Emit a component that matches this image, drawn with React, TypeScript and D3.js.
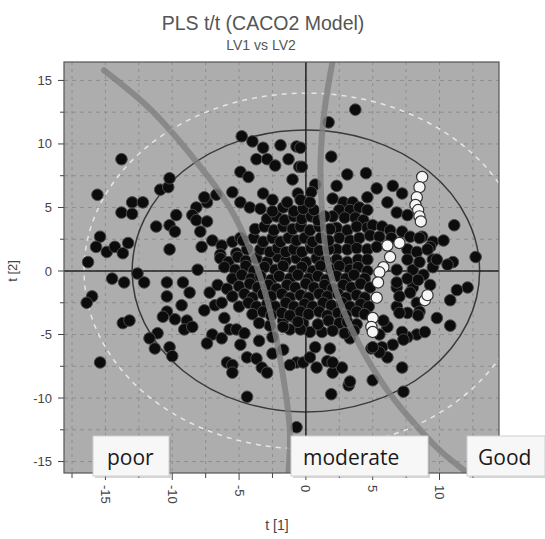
import React from "react";
import * as d3 from "d3";

// ---- data (t[1], t[2] scores) ----
const blackPoints: [number, number][] = [
  // sparse outer points
  [-13.8, 8.8], [-15.6, 6.0], [-13.0, 5.4], [-12.2, 5.4], [-13.8, 4.6], [-13.0, 4.5], [-15.4, 2.7], [-15.7, 1.9],
  [-14.9, 1.5], [-14.3, 1.9], [-13.7, 1.4], [-13.3, 2.2], [-16.3, 0.7], [-14.5, -0.6], [-13.6, -0.9], [-12.6, -0.2],
  [-12.1, -0.9], [-16.0, -2.0], [-16.4, -2.5], [-13.7, -4.1], [-13.2, -3.9], [-15.4, -7.2],
  [-10.9, 6.4], [-10.3, 6.6], [-10.2, 7.3], [-11.2, 3.5], [-10.2, 3.6], [-9.8, 3.1], [-9.7, 4.4], [-10.2, 1.7],
  [-8.2, 5.0], [-7.4, 5.4], [-8.5, 4.4], [-8.2, 4.0], [-7.4, 3.9], [-7.6, 5.8], [-6.7, 6.0], [-5.5, 6.2],
  [-7.9, 3.1], [-7.0, 2.4], [-6.3, 2.0], [-5.5, 2.3], [-4.9, 2.6], [-7.8, 1.9], [-6.4, 1.3], [-5.2, 1.4], [-4.4, 1.7],
  [-10.4, -0.9], [-9.2, -0.9], [-8.7, -1.7], [-10.4, -2.0], [-9.3, -2.7], [-10.4, -3.2], [-10.7, -3.6], [-9.8, -3.8],
  [-8.9, -3.9], [-9.1, -4.6], [-8.5, -4.4], [-11.1, -4.9], [-11.7, -5.3], [-11.3, -6.1], [-10.2, -6.0], [-10.0, -6.7],
  [-8.1, 0.1], [-7.6, -3.1], [-6.8, -2.7], [-7.2, -1.7], [-7.0, -5.0], [-6.3, -5.3], [-7.4, -5.7], [-6.1, -3.7],
  [-5.7, -4.6], [-5.2, -4.6], [-4.6, -4.9], [-4.9, -5.8], [-5.9, -7.2], [-5.5, -7.4], [-5.5, -8.0], [-4.4, -6.8],
  [-3.7, -6.9], [-3.3, -7.6], [-2.9, -8.0], [-4.4, -9.9], [-0.7, -12.3], [-2.5, -6.5], [-1.7, -6.2], [-0.7, -7.2],
  [-0.2, -7.2], [-2.7, -4.3], [-2.5, -5.2], [-1.2, -7.4], [0.3, -6.8], [0.7, -6.0], [0.8, -7.6], [1.6, -7.1],
  [1.8, -6.1], [1.2, -4.8], [0.3, -4.8], [-0.2, -4.1], [-1.2, -4.6], [-1.7, -3.9], [-3.5, -5.5], [-1.7, -4.4],
  [-1.0, -3.6], [-0.4, -4.6],
  // top
  [-4.8, 10.6], [-4.0, 10.2], [-3.2, 9.7], [-1.9, 9.9], [-0.7, 9.8], [-3.7, 8.8], [-2.9, 8.8], [-2.3, 8.3],
  [-1.3, 8.8], [-0.5, 8.2], [-4.9, 7.8], [-4.3, 7.4], [-1.0, 7.2], [-0.6, 6.1], [-3.2, 6.1], [-4.9, 5.4], [-4.2, 5.0],
  [1.9, 9.0], [-0.4, 9.7], [-0.3, 8.2], [3.7, 12.7], [1.7, 11.7], [0.7, 6.8], [0.4, 6.2], [3.1, 7.6], [4.5, 7.7],
  [2.3, 6.7], [5.3, 6.5], [6.5, 6.7], [7.2, 6.1], [4.6, 5.8], [6.1, 5.4], [6.8, 4.6], [7.6, 4.4],
  // right
  [11.1, 3.6], [8.7, 2.7], [9.5, 2.3], [10.3, 2.4], [12.7, 1.1], [11.0, 0.7], [10.6, 0.5], [9.5, 0.9], [12.1, -1.3],
  [11.3, -1.5], [10.8, -2.3], [9.8, -3.7], [10.8, -4.3], [8.3, -2.5], [8.5, -3.2], [7.2, -7.6], [5.0, -8.6],
  [3.2, -9.0], [1.9, -9.7], [7.3, -9.5], [8.3, -5.0], [7.6, -5.2], [6.5, -5.8], [5.7, -6.0], [6.1, -6.8], [4.9, -6.1],
  [5.5, -6.4], [2.0, -8.0], [2.7, -7.6], [3.3, -5.3], [6.8, -1.3], [8.0, -1.3], [8.8, -0.3], [9.3, -1.1],
  [7.6, -3.3], [8.4, -3.5], [6.8, -2.8], [7.2, -4.8], [6.1, -4.4], [5.5, -5.0], [5.0, -6.0], [7.3, -5.4],
  [2.0, -7.2], [3.3, -8.7], [9.5, 0.3], [8.0, 0.1], [7.6, -0.6], [8.4, -0.7], [6.8, 0.1], [6.8, -0.9],
  [7.8, -1.7], [7.0, -2.0], [8.9, -4.8], [7.0, -3.3], [5.8, -3.9],
  [2.8, 5.4], [2.0, 5.7], [3.5, 5.4], [2.5, 4.8], [3.3, 4.8], [4.0, 5.0], [4.6, 4.8], [2.0, 4.3], [2.9, 4.2],
  [3.7, 4.2], [4.3, 4.0], [2.3, 3.4], [3.1, 3.2], [3.8, 3.5], [4.6, 3.4], [5.0, 3.6], [5.7, 3.5], [6.3, 3.2],
  [7.2, 3.1], [2.5, 2.6], [3.3, 2.4], [4.0, 2.6], [4.8, 2.8], [5.5, 2.7], [6.4, 2.6], [7.8, 2.7], [8.5, 2.6],
  [9.3, 1.9], [2.3, 1.7], [3.1, 1.7], [3.8, 1.8], [4.6, 1.7], [5.3, 1.9], [7.6, 1.7], [8.3, 1.5], [9.1, 1.7],
  [9.8, 0.9], [2.3, 0.9], [3.1, 0.7], [3.9, 0.9], [4.6, 0.9], [7.6, 0.9], [8.5, 0.7],
  // dense core
  [-6.4, 1.0], [-5.8, 0.7], [-5.1, 1.1], [-4.5, 0.8], [-3.7, 1.0], [-2.9, 0.7], [-2.1, 1.1], [-1.5, 0.8], [-0.7, 1.0],
  [0.0, 0.7], [0.8, 1.0], [1.5, 0.8],
  [-6.1, 0.3], [-5.3, 0.1], [-4.5, 0.4], [-3.9, 0.0], [-3.1, 0.3], [-2.3, 0.1], [-1.7, 0.4], [-0.9, 0.0], [-0.3, 0.3],
  [0.5, 0.0], [1.1, 0.4], [1.9, 0.1], [2.5, 0.4], [3.3, 0.1], [3.9, 0.3], [4.6, 0.0],
  [-5.5, -0.6], [-4.8, -0.3], [-4.1, -0.6], [-3.4, -0.4], [-2.6, -0.7], [-2.0, -0.4], [-1.2, -0.6], [-0.6, -0.3],
  [0.2, -0.6], [0.9, -0.4], [1.5, -0.7], [2.3, -0.4], [3.0, -0.6], [3.6, -0.3], [4.4, -0.6],
  [-6.6, -1.1], [-5.9, -1.4], [-5.0, -1.2], [-4.2, -1.0], [-3.6, -1.3], [-2.8, -1.1], [-2.2, -1.4], [-1.4, -1.1],
  [-0.8, -1.3], [0.0, -1.0], [0.6, -1.3], [1.4, -1.1], [2.0, -1.4], [2.8, -1.1], [3.4, -1.3], [4.1, -1.0], [4.8, -1.3],
  [-5.5, -2.0], [-4.6, -1.8], [-4.0, -2.1], [-3.2, -1.8], [-2.6, -2.0], [-1.8, -1.8], [-1.2, -2.1], [-0.4, -1.9],
  [0.2, -2.1], [1.0, -1.8], [1.6, -2.0], [2.4, -1.8], [3.0, -2.1], [3.8, -1.9], [4.4, -2.1],
  [-6.3, -2.5], [-5.0, -2.8], [-4.3, -2.5], [-3.7, -2.8], [-2.9, -2.6], [-2.3, -2.8], [-1.5, -2.5], [-0.9, -2.8],
  [-0.1, -2.6], [0.5, -2.8], [1.3, -2.5], [1.9, -2.7], [2.7, -2.5], [3.3, -2.8], [4.1, -2.6], [4.7, -2.8],
  [-4.0, -3.4], [-3.2, -3.2], [-2.6, -3.5], [-1.8, -3.3], [-1.2, -3.5], [-0.4, -3.2], [0.2, -3.4], [1.0, -3.2],
  [1.6, -3.5], [2.4, -3.3], [3.0, -3.5], [3.8, -3.2], [4.4, -3.4],
  [-3.5, -4.1], [-0.6, -4.0], [0.9, -4.2], [1.7, -3.9], [2.5, -4.1], [3.1, -4.0], [3.8, -4.2],
  [2.0, -4.7], [2.9, -4.9], [3.6, -4.7],
  [-3.4, 1.7], [-2.7, 1.5], [-2.1, 1.8], [-1.5, 1.5], [-0.9, 1.7], [-0.3, 1.5], [0.4, 1.8], [1.0, 1.6], [1.7, 1.7],
  [-4.7, 2.4], [-3.9, 2.6], [-3.2, 2.3], [-2.5, 2.6], [-1.9, 2.3], [-1.3, 2.6], [-0.7, 2.4], [-0.1, 2.6], [0.5, 2.3],
  [1.1, 2.6], [1.7, 2.4],
  [-3.8, 3.3], [-3.1, 3.5], [-2.4, 3.2], [-1.7, 3.5], [-1.0, 3.3], [-0.4, 3.5], [0.3, 3.2], [1.0, 3.5], [1.8, 3.3],
  [-2.9, 4.1], [-2.2, 4.3], [-1.6, 4.0], [-0.9, 4.3], [-0.3, 4.1], [0.4, 4.3], [0.9, 4.0], [1.4, 4.3],
  [-3.4, 4.9], [-2.5, 4.7], [-1.7, 5.0], [-0.9, 4.7], [-0.2, 4.9], [0.6, 4.8],
  [-2.5, 5.6], [-1.4, 5.4], [-0.4, 5.6], [0.3, 5.4],
];

const whitePoints: [number, number][] = [
  [8.7, 7.4], [8.5, 6.6], [8.3, 5.8], [8.2, 5.2], [8.4, 4.8], [8.5, 4.3], [8.6, 3.9],
  [7.0, 2.2], [6.1, 2.0], [6.3, 1.1], [5.8, 0.3], [5.5, -0.1], [5.4, -0.9], [5.3, -2.1],
  [5.0, -3.7], [4.9, -4.4], [5.0, -4.8], [8.9, -2.3], [9.1, -1.9],
];

// class boundaries drawn by hand on the plot
const poorBoundary: [number, number][] = [
  [-15.1, 15.8], [-11.7, 12.8], [-8.5, 9.0], [-5.7, 5.0], [-3.8, 0.7], [-2.5, -3.9], [-1.6, -9.0], [-1.2, -12.5], [-1.3, -15.9],
];
const goodBoundary: [number, number][] = [
  [2.0, 16.5], [1.4, 12.7], [1.1, 8.7], [1.2, 4.8], [1.6, 0.9], [2.5, -2.3], [4.0, -5.8], [6.1, -9.4], [8.2, -12.1], [10.0, -14.1], [12.1, -15.9],
];

const ellipseSolid = { rx: 13.0, ry: 11.1 };
const ellipseDashed = { rx: 16.6, ry: 14.0 };

const xMajor = [-15, -10, -5, 0, 5, 10];
const xMinor = [-17.5, -12.5, -7.5, -2.5, 2.5, 7.5, 12.5];
const yMajor = [-15, -10, -5, 0, 5, 10, 15];
const yMinor = [-12.5, -7.5, -2.5, 2.5, 7.5, 12.5];

const zoneLabels = ["poor", "moderate", "Good"];

export default function App() {
  const W = 545, H = 539;
  const left = 64, right = 499, top = 62, bottom = 473;
  const x = d3.scaleLinear().domain([-18.1, 14.45]).range([left, right]);
  const y = d3.scaleLinear().domain([-15.9, 16.45]).range([bottom, top]);
  const gridX = [...xMajor, ...xMinor];
  const gridY = [...yMajor, ...yMinor];
  const line = d3.line<[number, number]>().x(d => x(d[0])).y(d => y(d[1])).curve(d3.curveCatmullRom);

  const boxes = [
    { x0: 93, x1: 169, tx: 107 },
    { x0: 291, x1: 428, tx: 303 },
    { x0: 467, x1: 545, tx: 478 },
  ];

  const font = "'Liberation Sans', Arial, sans-serif";
  return (
    <svg width={W} height={H} style={{ position: "absolute", left: 0, top: 0, background: "#fff" }} fontFamily={font}>
      <defs>
        <clipPath id="plotclip">
          <rect x={left} y={top} width={right - left} height={bottom - top} />
        </clipPath>
      </defs>
      <text x={263} y={30} textAnchor="middle" fontSize={19.5} fill="#555">PLS t/t (CACO2 Model)</text>
      <text x={261} y={50} textAnchor="middle" fontSize={14} fill="#555">LV1 vs LV2</text>

      <rect x={left} y={top} width={right - left} height={bottom - top} fill="#adadad" />
      <g clipPath="url(#plotclip)">
        {gridX.map(v => (
          <line key={"gx" + v} x1={x(v)} x2={x(v)} y1={top} y2={bottom} stroke="#8e8e8e" strokeWidth={1} strokeDasharray="3,4" />
        ))}
        {gridY.map(v => (
          <line key={"gy" + v} x1={left} x2={right} y1={y(v)} y2={y(v)} stroke="#8e8e8e" strokeWidth={1} strokeDasharray="4,4" />
        ))}
        <ellipse cx={x(0)} cy={y(0)} rx={x(ellipseDashed.rx) - x(0)} ry={y(0) - y(ellipseDashed.ry)} fill="none" stroke="#e6e6e6" strokeWidth={1.5} strokeDasharray="5,5" />
        <ellipse cx={x(0)} cy={y(0)} rx={x(ellipseSolid.rx) - x(0)} ry={y(0) - y(ellipseSolid.ry)} fill="none" stroke="#3a3a3a" strokeWidth={1.5} />
        <line x1={x(0)} x2={x(0)} y1={top} y2={bottom} stroke="#222" strokeWidth={1.5} />
        <line x1={left} x2={right} y1={y(0)} y2={y(0)} stroke="#222" strokeWidth={1.5} />
        {blackPoints.map((p, i) => (
          <circle key={"b" + i} cx={x(p[0])} cy={y(p[1])} r={5.8} fill="#0c0c0c" stroke="#4a4a4a" strokeWidth={1} />
        ))}
        {whitePoints.map((p, i) => (
          <circle key={"w" + i} cx={x(p[0])} cy={y(p[1])} r={5.6} fill="#f6f6f6" stroke="#333" strokeWidth={1.2} />
        ))}
        <path d={line(poorBoundary) || ""} fill="none" stroke="#808080" strokeOpacity={0.8} strokeWidth={6} strokeLinecap="round" />
        <path d={line(goodBoundary) || ""} fill="none" stroke="#808080" strokeOpacity={0.8} strokeWidth={6} strokeLinecap="round" />
      </g>
      <rect x={left} y={top} width={right - left} height={bottom - top} fill="none" stroke="#555" strokeWidth={1.2} />

      {/* y axis */}
      {yMajor.map(v => (
        <g key={"ym" + v}>
          <line x1={left - 6} x2={left} y1={y(v)} y2={y(v)} stroke="#444" />
          <text x={left - 12} y={y(v)} dy="0.35em" textAnchor="end" fontSize={13} fill="#444">{v}</text>
        </g>
      ))}
      {yMinor.map(v => (
        <line key={"yn" + v} x1={left - 4} x2={left} y1={y(v)} y2={y(v)} stroke="#444" />
      ))}
      <text transform={`translate(17,${y(0)}) rotate(-90)`} textAnchor="middle" fontSize={13} fill="#444">t [2]</text>

      {/* x axis */}
      {xMajor.map(v => (
        <g key={"xm" + v}>
          <line x1={x(v)} x2={x(v)} y1={bottom} y2={bottom + 7} stroke="#444" />
          <text transform={`translate(${x(v)},${bottom + 12}) rotate(90)`} dy="0.35em" textAnchor="start" fontSize={13} fill="#444">{v}</text>
        </g>
      ))}
      {xMinor.map(v => (
        <line key={"xn" + v} x1={x(v)} x2={x(v)} y1={bottom} y2={bottom + 5} stroke="#444" />
      ))}
      <text x={277} y={530} textAnchor="middle" fontSize={14} fill="#444">t [1]</text>

      {/* zone labels */}
      {boxes.map((b, i) => (
        <g key={"z" + i}>
          <rect x={b.x0 + 2} y={438} width={b.x1 - b.x0} height={40} fill="#8a8a8a" opacity={0.35} />
          <rect x={b.x0} y={436} width={b.x1 - b.x0} height={40} fill="#f7f7f7" stroke="#d0d0d0" strokeWidth={1} />
          <text x={b.tx} y={465} fontSize={21} fill="#1a1a1a" fontFamily="'Open Sans', sans-serif">{zoneLabels[i]}</text>
        </g>
      ))}
    </svg>
  );
}
